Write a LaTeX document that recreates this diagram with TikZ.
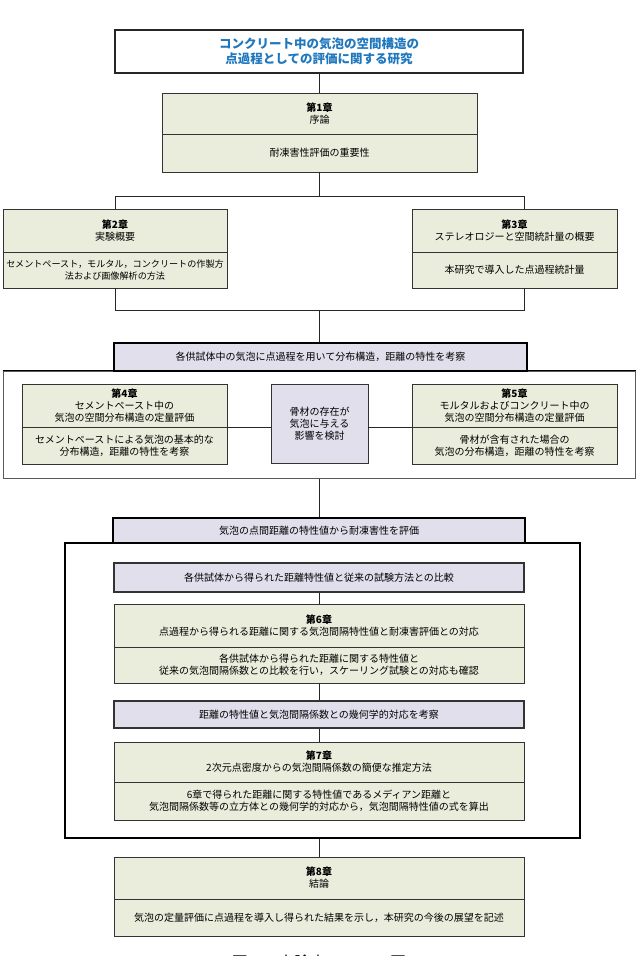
\documentclass[tikz,border=0pt]{standalone}
\usepackage{fontspec}
\setmainfont{Noto Sans CJK JP}
\definecolor{gfill}{HTML}{EBEDDC}
\definecolor{lfill}{HTML}{E1DFEC}
\definecolor{tblue}{HTML}{1F78BE}
\newcommand{\mybox}[7]{\node[#6, minimum width={#4pt-#2pt}, minimum height={#5pt-#3pt}] (#1) at ({(#2+#4)/2},{(#3+#5)/2}) {#7};}
\begin{document}
\begin{tikzpicture}[x=1pt,y=-1pt,
  base/.style={inner sep=0pt, align=center, anchor=center},
  gbox/.style={base, draw=black!80, line width=0.9pt, fill=gfill, font=\fontsize{10}{12}\selectfont},
  lbox/.style={base, draw=black!80, line width=0.9pt, fill=lfill, font=\fontsize{10}{12}\selectfont},
  band/.style={base, draw=black, line width=1.8pt, fill=lfill, font=\fontsize{10}{12}\selectfont},
  ibox/.style={base, draw=black!80, line width=1.1pt, fill=lfill, font=\fontsize{10}{12}\selectfont},
  titlebox/.style={base, draw=black!85, line width=1.2pt, fill=white, text=tblue, font=\fontsize{12.5}{15}\selectfont\bfseries},
  frameA/.style={base, draw=black!65, line width=1pt},
  frameB/.style={base, draw=black, line width=1.8pt},
  conn/.style={draw=black!85, line width=0.8pt}
]
\useasboundingbox (0,0) rectangle (636,956);

% frames
\mybox{f1}{3}{371}{635}{478}{frameA}{}
\draw[line width=1.8pt] (f1.north west) -- (f1.north east);
\mybox{f2}{65}{543}{580}{838}{frameB}{}

% title and chapter 1
\mybox{title}{115}{30}{523}{73}{titlebox}{コンクリート中の気泡の空間構造の\\点過程としての評価に関する研究}
\mybox{c1h}{162}{93}{477}{134}{gbox}{\textbf{第1章}\\序論}
\mybox{c1b}{162}{134}{477}{172}{gbox}{耐凍害性評価の重要性}

% chapters 2 and 3
\mybox{c2h}{3}{209}{227}{252}{gbox}{\textbf{第2章}\\実験概要}
\mybox{c2b}{3}{252}{227}{288}{gbox}{\fontsize{9.1}{12}\selectfont セメントペースト，モルタル，コンクリートの作製方\\\fontsize{9.1}{12}\selectfont 法および画像解析の方法}
\mybox{c3h}{412}{209}{617}{252}{gbox}{\textbf{第3章}\\ステレオロジーと空間統計量の概要}
\mybox{c3b}{412}{252}{617}{288}{gbox}{本研究で導入した点過程統計量}

% band 1 and chapters 4, 5
\mybox{b1}{114}{343}{527}{371}{band}{各供試体中の気泡に点過程を用いて分布構造，距離の特性を考察}
\mybox{c4h}{22}{384}{227}{427}{gbox}{\textbf{第4章}\\セメントペースト中の\\気泡の空間分布構造の定量評価}
\mybox{c4b}{22}{427}{227}{464}{gbox}{セメントペーストによる気泡の基本的な\\分布構造，距離の特性を考察}
\mybox{mid}{271}{384}{368}{463}{lbox}{骨材の存在が\\気泡に与える\\影響を検討}
\mybox{c5h}{412}{384}{617}{427}{gbox}{\textbf{第5章}\\モルタルおよびコンクリート中の\\気泡の空間分布構造の定量評価}
\mybox{c5b}{412}{427}{617}{464}{gbox}{骨材が含有された場合の\\気泡の分布構造，距離の特性を考察}

% band 2 and chapters 6, 7
\mybox{b2}{113}{518}{525}{543}{band}{気泡の点間距離の特性値から耐凍害性を評価}
\mybox{ia}{114}{563}{524}{592}{ibox}{各供試体から得られた距離特性値と従来の試験方法との比較}
\mybox{c6h}{114}{604}{524}{647}{gbox}{\textbf{第6章}\\点過程から得られる距離に関する気泡間隔特性値と耐凍害評価との対応}
\mybox{c6b}{114}{647}{524}{683}{gbox}{各供試体から得られた距離に関する特性値と\\従来の気泡間隔係数との比較を行い，スケーリング試験との対応も確認}
\mybox{ib}{114}{701}{524}{728}{ibox}{距離の特性値と気泡間隔係数との幾何学的対応を考察}
\mybox{c7h}{114}{742}{524}{782}{gbox}{\textbf{第7章}\\2次元点密度からの気泡間隔係数の簡便な推定方法}
\mybox{c7b}{114}{782}{524}{820}{gbox}{6章で得られた距離に関する特性値であるメディアン距離と\\気泡間隔係数等の立方体との幾何学的対応から，気泡間隔特性値の式を算出}

% chapter 8
\mybox{c8h}{114}{857}{524}{899}{gbox}{\textbf{第8章}\\結論}
\mybox{c8b}{114}{899}{524}{936}{gbox}{気泡の定量評価に点過程を導入し得られた結果を示し，本研究の今後の展望を記述}

% caption
\node[font=\fontsize{16}{16}\selectfont, anchor=base, inner sep=0pt] (cap) at (319,968) {図 1-2 本論文のフロー図};

% connectors
\coordinate (jl) at (115,196);
\coordinate (jr) at (524,196);
\coordinate (kl) at (115,310);
\coordinate (kr) at (524,310);
\coordinate (km) at (319,310);
\draw[conn] (title.south) -- (title.south |- c1h.north);
\draw[conn] (c1b.south) -- (c1b.south |- jl);
\draw[conn] (jl) -- (jr);
\draw[conn] (jl) -- (jl |- c2h.north);
\draw[conn] (jr) -- (jr |- c3h.north);
\draw[conn] (kl |- c2b.south) -- (kl) -- (kr) -- (kr |- c3b.south);
\draw[conn] (km) -- (km |- b1.north);
\draw[conn] (c4h.south east) -- (c4h.south east -| mid.west);
\draw[conn] (mid.east |- c5h.south west) -- (c5h.south west);
\draw[conn] (f1.south) -- (f1.south |- b2.north);
\draw[conn] (ia.south) -- (ia.south |- c6h.north);
\draw[conn] (c6b.south) -- (c6b.south |- ib.north);
\draw[conn] (ib.south) -- (ib.south |- c7h.north);
\draw[conn] (c8h.north) -- (c8h.north |- f2.south);
\end{tikzpicture}
\end{document}
